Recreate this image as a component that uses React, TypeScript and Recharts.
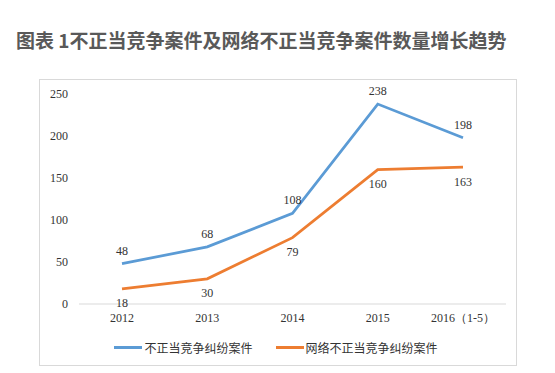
import { LineChart, Line, XAxis, YAxis, Legend, LabelList } from 'recharts'

const years = ['2012', '2013', '2014', '2015', '2016（1-5）']
const allCases = [48, 68, 108, 238, 198]
const netCases = [18, 30, 79, 160, 163]
const yTicks = [0, 50, 100, 150, 200, 250]

const BLUE = '#5b9bd5'
const ORANGE = '#ed7d31'
const TEXT = '#333333'
const SERIF = '"Liberation Serif", "Times New Roman", serif'
const CJK = '"Noto Sans CJK SC", sans-serif'

const data = years.map((y, i) => ({ year: y, all: allCases[i], net: netCases[i] }))

function renderLegend(props: any) {
  const items = props.payload || []
  return (
    <div style={{ display: 'flex', justifyContent: 'center', alignItems: 'center', gap: 23, fontFamily: CJK, fontSize: 12, color: TEXT, paddingLeft: 6, paddingTop: 5 }}>
      {items.map((it: any) => (
        <div key={it.value} style={{ display: 'flex', alignItems: 'center' }}>
          <span style={{ display: 'inline-block', width: 28, height: 3, background: it.color, marginRight: 2 }} />
          <span>{it.value}</span>
        </div>
      ))}
    </div>
  )
}

export default function App() {
  return (
    <div style={{ position: 'absolute', left: 0, top: 0, width: 555, height: 373, background: '#fff' }}>
      <div style={{ position: 'absolute', left: 16, top: 27, fontFamily: CJK, fontWeight: 700, fontSize: 19, color: '#595959', whiteSpace: 'nowrap', lineHeight: '26px' }}>
        图表 1不正当竞争案件及网络不正当竞争案件数量增长趋势
      </div>
      <div style={{ position: 'absolute', left: 39, top: 79, width: 478, height: 287, border: '1px solid #d9d9d9', boxSizing: 'border-box' }}>
        <LineChart width={478} height={287} data={data} margin={{ top: 14, right: 12, bottom: 0, left: 0 }}>
          <XAxis
            dataKey="year"
            padding={{ left: 43, right: 43 }}
            axisLine={{ stroke: '#d9d9d9' }}
            tickLine={false}
            tickSize={0}
            tickMargin={9}
            height={30}
            tick={{ fontFamily: SERIF, fontSize: 12, fill: TEXT }}
          />
          <YAxis
            domain={[0, 250]}
            ticks={yTicks}
            axisLine={false}
            tickLine={false}
            tickSize={0}
            tickMargin={11}
            width={39}
            tick={{ fontFamily: SERIF, fontSize: 12, fill: TEXT }}
          />
          <Legend verticalAlign="bottom" height={33} content={renderLegend} />
          <Line name="不正当竞争纠纷案件" dataKey="all" stroke={BLUE} strokeWidth={2.75} dot={false} isAnimationActive={false}>
            <LabelList dataKey="all" position="top" offset={9} style={{ fontFamily: SERIF, fontSize: 12, fill: TEXT }} />
          </Line>
          <Line name="网络不正当竞争纠纷案件" dataKey="net" stroke={ORANGE} strokeWidth={2.75} dot={false} isAnimationActive={false}>
            <LabelList dataKey="net" position="bottom" offset={10} style={{ fontFamily: SERIF, fontSize: 12, fill: TEXT }} />
          </Line>
        </LineChart>
      </div>
    </div>
  )
}
